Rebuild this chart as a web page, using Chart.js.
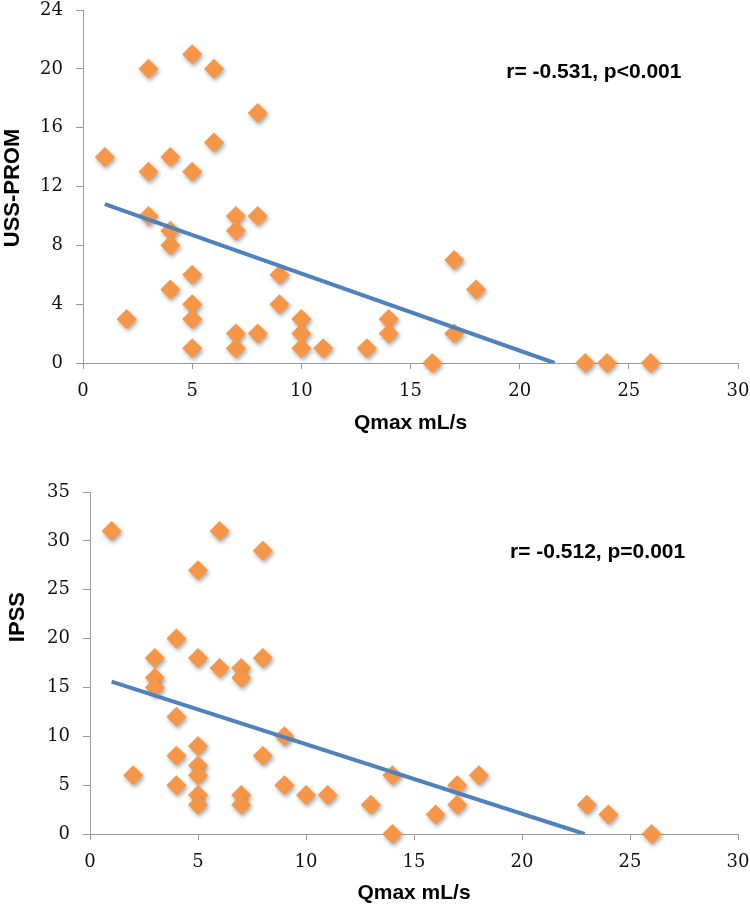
<!DOCTYPE html>
<html>
<head>
<meta charset="utf-8">
<script src="https://cdn.jsdelivr.net/npm/chart.js@4.4.0/dist/chart.umd.min.js"></script>
<style>
  html, body { margin: 0; padding: 0; background: #fff; }
  canvas { display: block; }
</style>
</head>
<body>
<canvas id="chartUss" width="750" height="440"></canvas>
<canvas id="chartIpss" width="750" height="464"></canvas>
<script>
// 上段: Qmax vs USS-PROM
const qmaxUss = [1, 3, 5, 6, 8, 3, 4, 5, 6, 3, 4, 4, 7, 7, 8, 5, 9, 4, 5, 9, 2, 5, 10, 7, 8, 10, 5, 7, 10, 11, 13, 14, 14, 16, 17, 18, 17, 23, 24, 26];
const ussProm = [14, 20, 21, 20, 17, 13, 14, 13, 15, 10, 9, 8, 10, 9, 10, 6, 6, 5, 4, 4, 3, 3, 3, 2, 2, 2, 1, 1, 1, 1, 1, 3, 2, 0, 7, 5, 2, 0, 0, 0];
const ussTrendX = [1, 21.6];
const ussTrendY = [10.8, 0];

// 下段: Qmax vs IPSS
const qmaxIpss = [1, 6, 8, 5, 4, 3, 5, 6, 7, 7, 8, 3, 3, 4, 9, 5, 4, 8, 5, 5, 2, 4, 9, 5, 5, 7, 7, 10, 11, 13, 14, 14, 17, 17, 16, 18, 23, 24, 26];
const ipss = [31, 31, 29, 27, 20, 18, 18, 17, 17, 16, 18, 16, 15, 12, 10, 9, 8, 8, 7, 6, 6, 5, 5, 4, 3, 4, 3, 4, 4, 3, 6, 0, 5, 3, 2, 6, 3, 2, 0];
const ipssTrendX = [1, 22.9];
const ipssTrendY = [15.6, 0];

const xTitle = 'Qmax mL/s';
const ussTitle = 'USS-PROM';
const ipssTitle = 'IPSS';
const ussStat = 'r= -0.531, p<0.001';
const ipssStat = 'r= -0.512, p=0.001';

const ORANGE = '#F79646';
const BLUE = '#4F81BD';
const AXIS = '#9A9A9A';

const toPoints = (xs, ys) => xs.map((x, i) => ({ x, y: ys[i] }));

// マーカーに影をつける
const shadowPlugin = {
  id: 'markerShadow',
  beforeDatasetDraw(chart, args) {
    if (args.meta.type !== 'scatter') return;
    const ctx = chart.ctx;
    ctx.save();
    ctx.shadowColor = 'rgba(0, 0, 0, 0.35)';
    ctx.shadowBlur = 4;
    ctx.shadowOffsetX = 1.5;
    ctx.shadowOffsetY = 2.5;
  },
  afterDatasetDraw(chart, args) {
    if (args.meta.type !== 'scatter') return;
    chart.ctx.restore();
  },
};

// 軸タイトルと相関係数の文字
const labelsPlugin = {
  id: 'extraLabels',
  afterDraw(chart, args, opts) {
    const ctx = chart.ctx;
    const area = chart.chartArea;
    const xs = chart.scales.x;
    const ys = chart.scales.y;
    ctx.save();
    ctx.fillStyle = '#000';
    ctx.textAlign = 'center';
    ctx.textBaseline = 'middle';

    ctx.font = 'bold 21px "Liberation Sans", Arial, sans-serif';
    ctx.fillText(opts.xTitle, (area.left + area.right) / 2, opts.xTitleY);
    ctx.fillText(opts.stat, xs.getPixelForValue(opts.statX), ys.getPixelForValue(opts.statY));

    ctx.font = 'bold 22px "Liberation Sans", Arial, sans-serif';
    ctx.translate(opts.yTitleX, ys.getPixelForValue(opts.yTitleAt));
    ctx.rotate(-Math.PI / 2);
    ctx.fillText(opts.yTitle, 0, 0);
    ctx.restore();
  },
};

function renderScatter(canvasId, xs, ys, trendX, trendY, cfg) {
  const ctx = document.getElementById(canvasId).getContext('2d');
  return new Chart(ctx, {
    type: 'scatter',
    data: {
      datasets: [
        {
          type: 'line',
          data: toPoints(trendX, trendY),
          borderColor: BLUE,
          borderWidth: 4,
          pointRadius: 0,
          fill: false,
          order: 0,
        },
        {
          type: 'scatter',
          data: toPoints(xs, ys),
          pointStyle: 'rectRot',
          pointRadius: 10,
          pointHoverRadius: 10,
          backgroundColor: ORANGE,
          borderColor: ORANGE,
          borderWidth: 0,
          clip: false,
          order: 1,
        },
      ],
    },
    options: {
      responsive: false,
      animation: false,
      layout: { padding: { top: cfg.padTop, right: 12, left: 0, bottom: 0 } },
      scales: {
        x: {
          type: 'linear',
          min: 0,
          max: 30,
          ticks: {
            stepSize: 5,
            padding: 12,
            color: '#111',
            font: { family: '"DejaVu Serif", serif', size: 18 },
          },
          grid: { drawOnChartArea: false, drawTicks: true, tickLength: 6, color: AXIS },
          border: { color: AXIS, width: 1 },
          afterFit(scale) {
            scale.height = cfg.xHeight;
            scale.paddingRight = 0;
            scale.paddingLeft = 0;
          },
        },
        y: {
          type: 'linear',
          min: 0,
          max: cfg.yMax,
          ticks: {
            stepSize: cfg.yStep,
            padding: 13,
            color: '#111',
            font: { family: '"DejaVu Serif", serif', size: 18 },
          },
          grid: { drawOnChartArea: false, drawTicks: true, tickLength: 7, color: AXIS },
          border: { color: AXIS, width: 1 },
          afterFit(scale) {
            scale.width = cfg.yWidth;
            scale.paddingTop = 0;
            scale.paddingBottom = 0;
          },
        },
      },
      plugins: {
        legend: { display: false },
        tooltip: { enabled: false },
        extraLabels: cfg.labels,
      },
    },
    plugins: [shadowPlugin, labelsPlugin],
  });
}

renderScatter('chartUss', qmaxUss, ussProm, ussTrendX, ussTrendY, {
  padTop: 10,
  xHeight: 77,
  yWidth: 83,
  yMax: 24,
  yStep: 4,
  labels: {
    xTitle, xTitleY: 423,
    yTitle: ussTitle, yTitleX: 12.5, yTitleAt: 11.9,
    stat: ussStat, statX: 23.4, statY: 19.8,
  },
});

renderScatter('chartIpss', qmaxIpss, ipss, ipssTrendX, ipssTrendY, {
  padTop: 52,
  xHeight: 70,
  yWidth: 90,
  yMax: 35,
  yStep: 5,
  labels: {
    xTitle, xTitleY: 453,
    yTitle: ipssTitle, yTitleX: 18, yTitleAt: 22.2,
    stat: ipssStat, statX: 23.5, statY: 28.8,
  },
});
</script>
</body>
</html>
